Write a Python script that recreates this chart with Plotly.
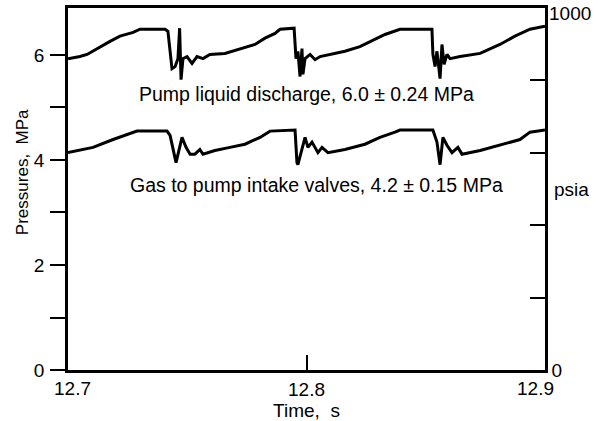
import plotly.graph_objects as go

# Time (s)
t_discharge = [12.7000, 12.7050, 12.7080, 12.7134, 12.7176, 12.7218, 12.7273, 12.7302,
               12.7407, 12.7419, 12.7436, 12.7449, 12.7461, 12.7468, 12.7474, 12.7482,
               12.7499, 12.7520, 12.7541, 12.7566, 12.7595, 12.7658, 12.7721, 12.7784,
               12.7826, 12.7868, 12.7889, 12.7948, 12.7956, 12.7964, 12.7973, 12.7981,
               12.7985, 12.7994, 12.8015, 12.8036, 12.8057, 12.8099, 12.8161, 12.8224,
               12.8287, 12.8329, 12.8392, 12.8526, 12.8530, 12.8539, 12.8547, 12.8560,
               12.8568, 12.8577, 12.8589, 12.8602, 12.8644, 12.8728, 12.8811, 12.8874,
               12.8937, 12.9000]
# Pump liquid discharge pressure (MPa)
p_discharge = [5.93, 5.97, 6.01, 6.16, 6.26, 6.36, 6.43, 6.49,
               6.49, 6.45, 5.74, 5.78, 5.93, 6.51, 5.53, 5.93,
               5.97, 5.84, 5.97, 5.93, 6.01, 6.03, 6.11, 6.20,
               6.32, 6.41, 6.49, 6.51, 5.93, 6.07, 5.59, 6.12,
               5.63, 5.93, 6.01, 5.91, 5.97, 6.01, 6.07, 6.16,
               6.30, 6.39, 6.49, 6.49, 6.01, 5.78, 6.07, 5.55,
               6.20, 5.82, 6.01, 5.93, 5.97, 6.03, 6.20, 6.36,
               6.49, 6.55]

t_gas = [12.7000, 12.7071, 12.7105, 12.7189, 12.7289, 12.7415, 12.7428, 12.7453,
         12.7478, 12.7495, 12.7512, 12.7532, 12.7553, 12.7566, 12.7616, 12.7679,
         12.7742, 12.7805, 12.7847, 12.7952, 12.7960, 12.7964, 12.7994, 12.8006,
         12.8023, 12.8048, 12.8065, 12.8090, 12.8161, 12.8245, 12.8308, 12.8371,
         12.8392, 12.8530, 12.8547, 12.8560, 12.8572, 12.8589, 12.8610, 12.8635,
         12.8652, 12.8728, 12.8811, 12.8895, 12.8937, 12.9000]
# Gas to pump intake valves pressure (MPa)
p_gas = [4.14, 4.20, 4.24, 4.39, 4.55, 4.55, 4.47, 3.95,
         4.43, 4.24, 4.11, 4.11, 4.20, 4.11, 4.18, 4.24,
         4.30, 4.43, 4.55, 4.57, 3.95, 3.91, 4.43, 4.24,
         4.34, 4.14, 4.24, 4.14, 4.20, 4.30, 4.43, 4.53,
         4.57, 4.57, 4.34, 3.91, 4.43, 4.28, 4.14, 4.24,
         4.11, 4.18, 4.28, 4.39, 4.53, 4.57]

x_ticks = [12.7, 12.8, 12.9]
x_tick_labels = ["12.7", "12.8", "12.9"]
mpa_ticks = [0, 1, 2, 3, 4, 5, 6]
mpa_tick_labels = ["0", "", "2", "", "4", "", "6"]
psia_ticks = [0, 200, 400, 600, 800, 1000]
psia_tick_labels = ["0", "", "", "", "", "1000"]

label_discharge = "Pump liquid discharge, 6.0 ± 0.24 MPa"
label_gas = "Gas to pump intake valves, 4.2 ± 0.15 MPa"

FONT = "Liberation Sans, Arial, Helvetica, sans-serif"
MPA_TOP = 1000 * 0.00689476

fig = go.Figure()
fig.add_trace(go.Scatter(x=t_discharge, y=p_discharge, mode="lines",
                         line=dict(color="black", width=3), showlegend=False))
fig.add_trace(go.Scatter(x=t_gas, y=p_gas, mode="lines",
                         line=dict(color="black", width=3), showlegend=False))
# invisible trace to activate right axis
fig.add_trace(go.Scatter(x=[12.7], y=[0], yaxis="y2", mode="markers",
                         marker=dict(opacity=0), showlegend=False, hoverinfo="skip"))

annotations = [
    dict(text=label_discharge, x=12.7998, y=5.257, xref="x", yref="y",
         showarrow=False, font=dict(size=19.5)),
    dict(text=label_gas, x=12.8042, y=3.524, xref="x", yref="y",
         showarrow=False, font=dict(size=19.5)),
    dict(text="psia", x=1.015, y=0.50, xref="paper", yref="paper",
         xanchor="left", yanchor="middle", showarrow=False, font=dict(size=19)),
    dict(text="Pressures,  MPa", x=-0.094, y=0.547, xref="paper", yref="paper",
         textangle=-90, xanchor="center", yanchor="middle", showarrow=False,
         font=dict(size=17)),
    # x end labels, nudged inward as in the reference
    dict(text=x_tick_labels[0], x=x_ticks[0], y=0, xref="x", yref="paper",
         xanchor="center", yanchor="top", xshift=4, yshift=-6, showarrow=False,
         font=dict(size=19)),
    dict(text=x_tick_labels[2], x=x_ticks[2], y=0, xref="x", yref="paper",
         xanchor="center", yanchor="top", xshift=-10, yshift=-6, showarrow=False,
         font=dict(size=19)),
    # top right axis label, sitting just under the top edge
    dict(text=psia_tick_labels[-1], x=1, y=1, xref="paper", yref="paper",
         xanchor="left", yanchor="middle", xshift=2, yshift=-5, showarrow=False,
         font=dict(size=19)),
]

fig.update_layout(
    template="none",
    width=600, height=421,
    margin=dict(l=68, r=55, t=8, b=51, pad=0),
    paper_bgcolor="white", plot_bgcolor="white",
    font=dict(family=FONT, size=19, color="black"),
    xaxis=dict(range=[12.7, 12.9], tickvals=x_ticks, ticktext=["", x_tick_labels[1], ""],
               ticks="inside", ticklen=15, tickwidth=2, tickcolor="black",
               showline=True, linecolor="black", linewidth=2.5, mirror=True,
               showgrid=False, zeroline=False, automargin=False,
               title=dict(text="Time,  s", standoff=4, font=dict(size=19))),
    yaxis=dict(range=[0, MPA_TOP], tickvals=mpa_ticks, ticktext=mpa_tick_labels,
               ticks="outside", ticklen=15, tickwidth=2, tickcolor="black",
               ticklabelstandoff=2,
               showline=True, linecolor="black", linewidth=2.5,
               showgrid=False, zeroline=False, automargin=False),
    yaxis2=dict(range=[0, 1000], overlaying="y", side="right",
                tickvals=psia_ticks, ticktext=psia_tick_labels[:-1] + [""],
                ticks="inside", ticklen=15, tickwidth=2, tickcolor="black",
                showline=True, linecolor="black", linewidth=2.5,
                showgrid=False, zeroline=False, automargin=False),
    annotations=annotations,
)

fig.write_html("out.html")
